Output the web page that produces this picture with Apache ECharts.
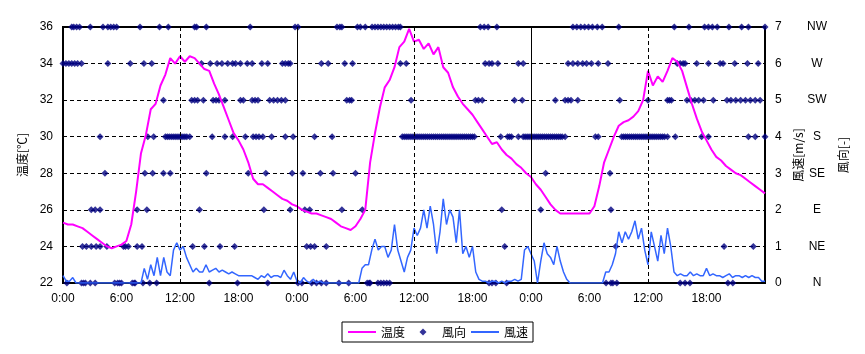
<!DOCTYPE html>
<html>
<head>
<meta charset="utf-8">
<script src="https://cdn.jsdelivr.net/npm/echarts@6/dist/echarts.min.js"></script>
<style>
html,body{margin:0;padding:0;background:#fff;}
#chart{width:865px;height:354px;}
</style>
</head>
<body>
<div id="chart"></div>
<script>
/*三日間の温度・風向・風速*/
var tempStep = 0.5;//温度 30分毎
var temp = [
    25.3,25.2, 25.2,25.1, 25.0,24.8, 24.6,24.4, 24.2,24.0, 23.9,24.0,
    24.1,24.3, 25.2,27.0, 29.1,30.1, 31.5,31.8, 32.8,33.4, 34.3,34.0,
    34.4,34.1, 34.4,34.3, 34.0,33.7, 33.6,32.9, 32.3,31.6, 30.9,30.2,
    29.8,29.3, 28.6,27.7, 27.4,27.4, 27.2,27.0, 26.8,26.6, 26.5,26.3,
    26.2,26.0, 25.9,25.8, 25.8,25.7, 25.6,25.5, 25.3,25.1, 25.0,24.9,
    25.1,25.5, 26.0,28.6, 30.2,31.6, 32.7,33.1, 33.8,34.9, 35.2,35.9,
    35.2,35.3, 34.8,35.1, 34.5,34.9, 33.8,33.5, 32.7,32.2, 31.8,31.5,
    31.2,30.8, 30.4,30.0, 29.6,29.7, 29.3,29.0, 28.8,28.5, 28.3,28.0,
    27.8,27.4, 27.1,26.7, 26.3,26.0, 25.8,25.8, 25.8,25.8, 25.8,25.8,
    25.8,26.2, 27.3,28.6, 29.3,30.0, 30.6,30.8, 30.9,31.1, 31.4,32.0,
    33.6,32.8, 33.3,33.0, 33.6,34.3, 34.1,33.6, 32.7,31.8, 31.0,30.3,
    29.8,29.3, 28.9,28.7, 28.4,28.2, 28.0,27.9, 27.7,27.5, 27.3,27.1,
    26.9
];
var speedStep = 1/3;//風速 20分毎
var speed = [
    0.2,0.05,0.05, 0.15,0,0, 0,0,0, 0,0,0, 0,0,0, 0,0,0, 0,0,0, 0,0,0,
    0,0.4,0.1, 0.5,0.2,0.7, 0.2,0.7,0.3, 0.2,0.9,1.1, 0.9,1.0,0.7, 0.5,0.3,0.4,
    0.3,0.3,0.5, 0.3,0.35,0.4, 0.3,0.35,0.3, 0.25,0.3,0.25, 0.2,0.2,0.2, 0.2,0.2,0.15,
    0.1,0.2,0.15, 0.25,0.15,0.2, 0.2,0.15,0.35, 0.2,0.1,0.3,
    0.05,0,0.15, 0.05,0,0.1, 0,0.05,0, 0,0,0, 0,0,0, 0,0,0,
    0,0,0.4, 0.5,0.5,0.9, 1.2,0.9,1.0, 1.0,0.7,0.9, 1.6,0.9,0.6, 0.3,0.7,0.9,
    1.5,1.3,1.5, 2.0,1.5,2.1, 1.6,0.8,1.4, 2.3,1.6,2.0, 1.8,1.1,2.0, 0.8,1.0,0.7,
    1.0,0.3,0.1, 0.05,0.05,0, 0.05,0.05,0, 0.05,0,0.05, 0.05,0.1,0.05, 0.1,0.9,1.0,
    0.8,0.6,0, 0.6,1.1,0.8, 0.7,0.5,1.0, 0.6,0.3,0.1, 0,0,0, 0,0,0,
    0,0,0, 0,0,0.3, 0.3,0.5,0.8, 1.4,1.1,1.4, 1.2,1.4,1.7, 1.2,1.5,0.9,
    0.5,1.4,1.0, 0.6,1.3,0.8, 1.5,1.0,0.3, 0.2,0.25,0.2, 0.2,0.3,0.2, 0.25,0.2,0.2,
    0.4,0.2,0.25, 0.2,0.2,0.15, 0.2,0.25,0.15, 0.2,0.2,0.15, 0.2,0.15,0.2, 0.15,0.15,0.05,
    0.05
];
//風向 各方位の観測時刻[h]
var dirNames = ["N","NE","E","SE","S","SW","W","NW"];
var dirN = [0.4,1.9,2.1,2.3,2.8,3.3,5.3,5.6,5.8,6.0,7.1,7.3,7.4,8.2,8.9,9.6,15.0,17.9,21.0,24.1,
    24.5,25.5,26.0,26.5,27.0,28.3,29.3,31.2,31.4,31.5,32.3,32.6,32.9,33.2,33.5,43.7,44.0,44.4,45.5,
    55.7,56.2,56.4,56.8,63.3,63.8,64.3,68.2,68.7];
var dirNE = [2.0,2.4,2.9,3.4,3.8,4.5,6.2,6.4,6.7,7.6,8.1,13.3,14.5,16.1,17.6,25.0,25.4,25.8,27.0,
    45.3,56.7,67.8,70.8];
var dirE = [2.9,3.3,3.8,7.6,8.6,14.0,20.6,23.3,24.8,25.3,28.6,30.7,45.0,49.0,56.2];
var dirSE = [4.3,8.4,9.2,10.3,11.0,14.7,19.0,20.8,23.5,24.6,26.4,27.7,30.0,49.5,56.1];
var dirS = [3.8,8.7,9.3,10.5,10.7,10.9,11.1,11.3,11.5,11.7,11.9,12.1,12.3,12.5,12.7,13.0,15.3,16.6,
    17.4,18.7,19.5,19.8,20.1,20.5,21.4,22.8,23.6,25.8,27.6,
    34.8,35.0,35.2,35.4,35.6,35.8,36.0,36.2,36.4,36.6,36.8,37.0,37.2,37.4,37.6,37.8,38.0,38.2,38.4,
    38.6,38.8,39.0,39.2,39.4,39.6,39.8,40.0,40.2,40.4,40.6,40.8,41.0,41.2,41.4,41.6,41.8,42.0,42.2,
    44.9,45.6,45.8,46.0,46.7,47.2,47.4,47.6,47.8,48.0,48.2,48.4,48.6,48.8,49.0,49.2,49.4,49.6,49.8,
    50.0,50.2,50.4,50.6,50.8,51.0,51.2,51.5,54.6,54.9,
    57.3,57.5,57.7,57.9,58.1,58.3,58.5,58.7,58.9,59.1,59.3,59.5,59.7,59.9,60.1,60.3,60.5,60.7,60.9,
    61.1,61.3,61.5,61.7,62.0,62.8,65.5,66.2,70.3,71.0,72.0];
var dirSW = [10.3,13.2,13.5,13.8,14.4,15.4,15.7,16.0,16.6,18.2,18.5,19.4,19.7,20.0,21.2,21.6,22.0,
    22.4,22.8,29.1,29.4,29.6,35.7,42.3,42.6,43.0,46.3,47.1,50.5,51.5,51.8,52.1,52.8,57.1,60.0,62.0,
    62.2,62.4,64.0,64.4,64.8,65.2,65.7,66.7,68.1,68.5,69.0,69.5,70.0,70.5,71.0,71.5];
var dirW = [0.0,0.3,0.6,0.9,1.2,1.5,1.9,4.6,6.9,8.3,9.1,14.2,15.1,15.8,16.3,16.9,17.4,17.7,18.2,
    18.9,19.4,20.4,21.0,22.5,22.8,23.1,23.3,26.5,27.2,28.9,29.7,34.6,35.2,43.3,43.7,44.0,44.6,46.7,
    47.2,51.8,52.3,52.8,53.3,53.7,54.2,54.9,55.9,63.0,63.3,63.6,63.8,65.0,66.2,67.4,67.7,68.9,70.2,71.3];
var dirNW = [0.9,1.1,1.4,1.7,2.8,4.1,4.6,4.9,5.2,5.5,7.9,9.9,10.8,13.5,13.7,14.7,19.2,23.8,24.1,
    28.1,28.4,28.6,30.2,30.5,31.0,31.7,32.0,32.3,32.6,32.9,33.2,33.5,33.8,34.1,34.4,34.6,42.8,43.2,
    43.6,44.5,52.3,52.7,53.1,53.5,53.9,54.3,54.8,55.3,57.0,62.7,64.2,65.8,66.2,66.6,67.1,68.3,69.6,
    70.3,72.0];
var dayLines = [24,48];//日の境目
var noonLines = [12,36,60];

var toPairs = function(arr, step){
    var res = [];
    for (var i = 0; i < arr.length; i++) {
        res.push([i*step, arr[i]]);
    }
    return res;
};
var dirData = function(){
    var rows = [dirN,dirNE,dirE,dirSE,dirS,dirSW,dirW,dirNW];
    var res = [];
    for (var k = 0; k < rows.length; k++) {
        for (var i = 0; i < rows[k].length; i++) {
            res.push([rows[k][i], k]);
        }
    }
    return res;
};
var vLines = function(){
    var res = [];
    for (var i = 0; i < noonLines.length; i++) {
        res.push({xAxis: noonLines[i], lineStyle: {type: [4,3], color: '#000', width: 1}});
    }
    for (var i = 0; i < dayLines.length; i++) {
        res.push({xAxis: dayLines[i], lineStyle: {type: 'solid', color: '#000', width: 1}});
    }
    return res;
};

var jp = '"Noto Sans CJK JP", sans-serif';
var num = '"Liberation Sans", Arial, sans-serif';

var chart = echarts.init(document.getElementById('chart'));
chart.setOption({
    animation: false,
    backgroundColor: '#fff',
    grid: {
        left: 63, right: 100, top: 27, bottom: 71,
        show: true, borderColor: '#000', borderWidth: 2,
        containLabel: false
    },
    legend: {
        top: 322, left: 342,
        data: [
            {name: '温度', itemStyle: {opacity: 0}},
            {name: '風向', icon: 'path://M-14,-3.5M14,3.5M0,-3.5L3.5,0L0,3.5L-3.5,0Z'},
            {name: '風速', itemStyle: {opacity: 0}}
        ],
        itemWidth: 28, itemHeight: 7, itemGap: 4,
        borderColor: '#000', borderWidth: 1, borderRadius: 0,
        padding: [4, 5],
        textStyle: {fontFamily: jp, fontSize: 12, color: '#000'}
    },
    xAxis: {
        type: 'value', min: 0, max: 72, interval: 6,
        axisLine: {show: false},
        axisTick: {show: false},
        splitLine: {show: false},
        axisLabel: {
            showMaxLabel: false,
            margin: 10,
            fontFamily: num, fontSize: 12, color: '#000',
            formatter: function(v){ return (v % 24) + ':00'; }
        }
    },
    yAxis: [
        {
            type: 'value', min: 22, max: 36, interval: 2, position: 'left',
            name: '温度[℃]', nameLocation: 'middle', nameGap: 26, nameRotate: 90,
            nameTextStyle: {fontFamily: jp, fontSize: 12, color: '#000'},
            axisLine: {show: false}, axisTick: {show: false},
            axisLabel: {margin: 10, fontFamily: num, fontSize: 12, color: '#000'},
            splitLine: {show: true, lineStyle: {color: '#000', type: [4,3], width: 1}}
        },
        {
            type: 'value', min: 0, max: 7, interval: 1, position: 'right',
            name: '風速[m/s]', nameLocation: 'middle', nameGap: 24, nameRotate: 90,
            nameTextStyle: {fontFamily: jp, fontSize: 12, color: '#000'},
            axisLine: {show: false}, axisTick: {show: false},
            axisLabel: {margin: 10, fontFamily: num, fontSize: 12, color: '#000'},
            splitLine: {show: false}
        },
        {
            type: 'value', min: 0, max: 7, interval: 1, position: 'right', offset: 40,
            name: '風向[-]', nameLocation: 'middle', nameGap: 25, nameRotate: 90,
            nameTextStyle: {fontFamily: jp, fontSize: 12, color: '#000'},
            axisLine: {show: false}, axisTick: {show: false},
            axisLabel: {
                margin: 12, align: 'center', fontFamily: num, fontSize: 12, color: '#000',
                formatter: function(v){ return dirNames[v]; }
            },
            splitLine: {show: false}
        }
    ],
    series: [
        {
            name: 'grid', type: 'line', data: [], silent: true,
            markLine: {silent: true, symbol: 'none', label: {show: false}, data: vLines()}
        },
        {
            name: '風向', type: 'scatter', yAxisIndex: 1,
            symbol: 'diamond', symbolSize: 7,
            itemStyle: {color: '#000080'},
            data: dirData()
        },
        {
            name: '温度', type: 'line', yAxisIndex: 0,
            symbol: 'none',
            lineStyle: {color: '#ff00ff', width: 2},
            itemStyle: {color: '#ff00ff'},
            data: toPairs(temp, tempStep)
        },
        {
            name: '風速', type: 'line', yAxisIndex: 1,
            symbol: 'none',
            lineStyle: {color: '#3366ff', width: 1.5},
            itemStyle: {color: '#3366ff'},
            data: toPairs(speed, speedStep)
        }
    ]
});
</script>
</body>
</html>
